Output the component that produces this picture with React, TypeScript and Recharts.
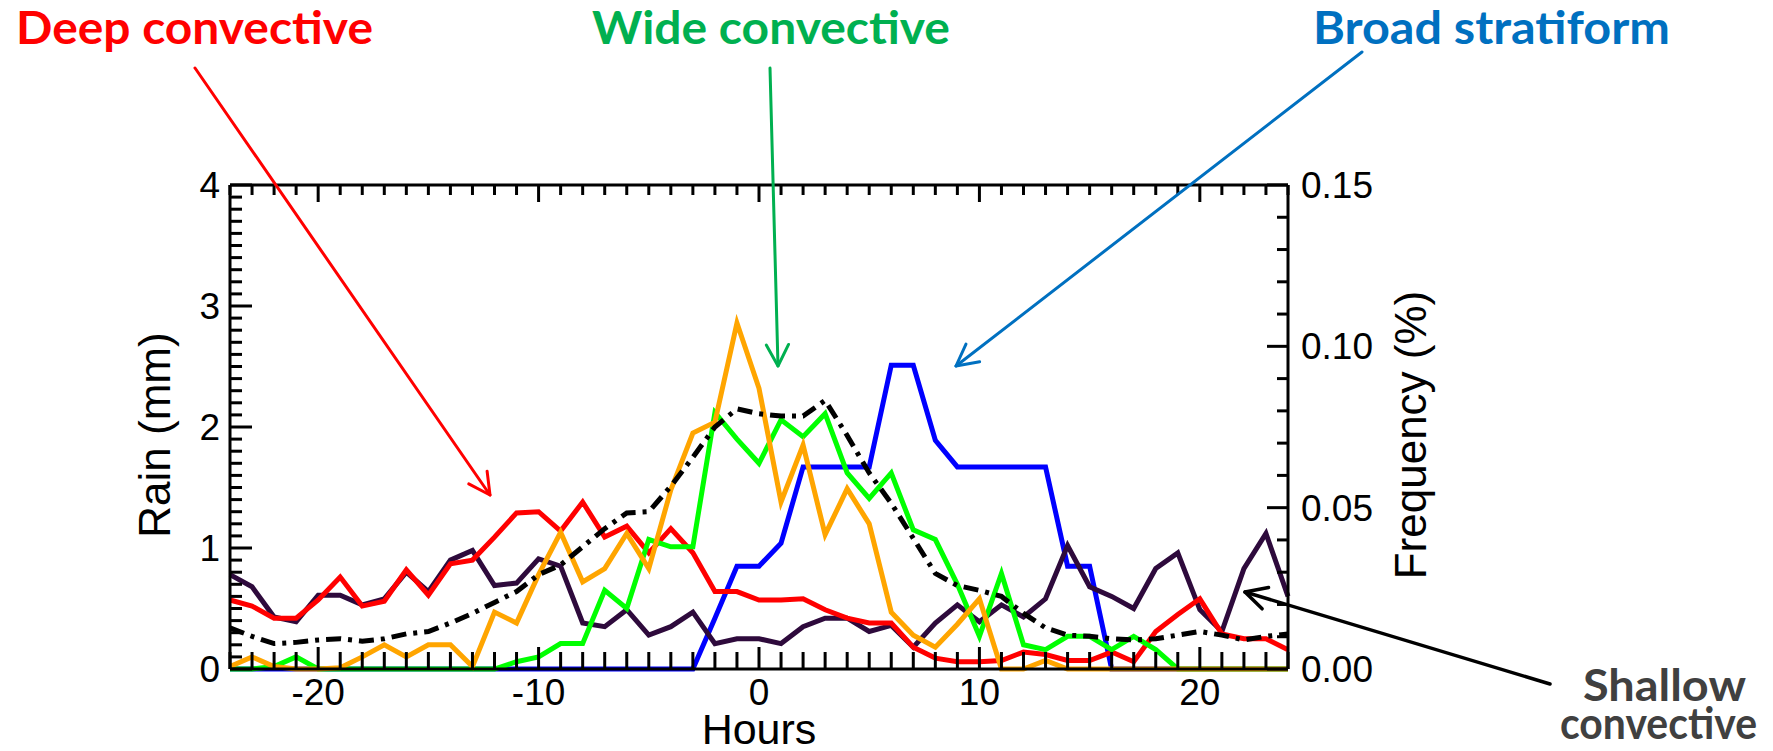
import React from 'react';
import { LineChart, Line, XAxis, YAxis } from 'recharts';

// hourly composite, -24 .. 24 h
const HOURS = [
  -24, -23, -22, -21, -20, -19, -18, -17, -16, -15, -14, -13, -12, -11, -10, -9,
  -8, -7, -6, -5, -4, -3, -2, -1, 0, 1, 2, 3, 4, 5, 6, 7,
  8, 9, 10, 11, 12, 13, 14, 15, 16, 17, 18, 19, 20, 21, 22, 23, 24,
];

const DEEP = [
  0.57, 0.52, 0.42, 0.42, 0.57, 0.76, 0.52, 0.56, 0.82, 0.61, 0.87, 0.9, 1.09, 1.29, 1.3, 1.14,
  1.38, 1.09, 1.18, 0.96, 1.16, 0.96, 0.64, 0.64, 0.57, 0.57, 0.58, 0.49, 0.42, 0.38, 0.38, 0.18,
  0.09, 0.06, 0.06, 0.07, 0.14, 0.12, 0.07, 0.07, 0.14, 0.06, 0.31, 0.45, 0.58, 0.29, 0.25, 0.25, 0.16,
];

const SHALLOW = [
  0.78, 0.68, 0.43, 0.39, 0.61, 0.61, 0.53, 0.58, 0.8, 0.64, 0.9, 0.98, 0.69, 0.71, 0.91, 0.85,
  0.38, 0.35, 0.49, 0.28, 0.35, 0.47, 0.21, 0.25, 0.25, 0.21, 0.35, 0.42, 0.42, 0.31, 0.36, 0.18,
  0.38, 0.53, 0.39, 0.53, 0.43, 0.58, 1.02, 0.68, 0.6, 0.5, 0.83, 0.96, 0.49, 0.31, 0.83, 1.12, 0.6,
];

const ORANGE = [
  0.02, 0.1, 0.02, 0, 0, 0.01, 0.1, 0.2, 0.1, 0.2, 0.2, 0.02, 0.47, 0.38, 0.78, 1.13,
  0.72, 0.83, 1.12, 0.83, 1.48, 1.95, 2.04, 2.86, 2.32, 1.38, 1.85, 1.11, 1.49, 1.2, 0.47, 0.28,
  0.18, 0.37, 0.58, 0, 0, 0.07, 0, 0, 0, 0, 0, 0, 0, 0, 0, 0, 0,
];

const WIDE = [
  0, 0, 0.02, 0.1, 0, 0, 0, 0, 0, 0, 0, 0, 0, 0.06, 0.1, 0.21,
  0.21, 0.65, 0.5, 1.07, 1.01, 1.01, 2.12, 1.9, 1.7, 2.06, 1.92, 2.11, 1.62, 1.41, 1.62, 1.15,
  1.07, 0.7, 0.27, 0.79, 0.2, 0.16, 0.27, 0.27, 0.16, 0.27, 0.16, 0, 0, 0, 0, 0, 0,
];

const BROAD = [
  0, 0, 0, 0, 0, 0, 0, 0, 0, 0, 0, 0, 0, 0, 0, 0,
  0, 0, 0, 0, 0, 0, 0.42, 0.85, 0.85, 1.04, 1.67, 1.67, 1.67, 1.67, 2.51, 2.51,
  1.89, 1.67, 1.67, 1.67, 1.67, 1.67, 0.85, 0.85, 0, 0, 0, 0, 0, 0, 0, 0, 0,
];

const TOTAL = [
  0.34, 0.27, 0.21, 0.22, 0.24, 0.25, 0.23, 0.25, 0.29, 0.31, 0.38, 0.46, 0.55, 0.64, 0.78, 0.86,
  1.01, 1.16, 1.29, 1.3, 1.51, 1.75, 2.0, 2.15, 2.11, 2.09, 2.09, 2.22, 1.93, 1.62, 1.37, 1.08,
  0.79, 0.69, 0.65, 0.6, 0.46, 0.34, 0.28, 0.27, 0.25, 0.24, 0.25, 0.28, 0.31, 0.28, 0.24, 0.27, 0.29,
];

const X_LABELS = [-20, -10, 0, 10, 20];
const RAIN_LABELS = [0, 1, 2, 3, 4];
const FREQ_LABELS = ['0.00', '0.05', '0.10', '0.15'];

const data = HOURS.map((h, i) => ({
  hour: h,
  deep: DEEP[i],
  shallow: SHALLOW[i],
  orange: ORANGE[i],
  wide: WIDE[i],
  broad: BROAD[i],
  total: TOTAL[i],
}));

const xTicks = HOURS;
const rainTicks = Array.from({ length: 41 }, (_, i) => i / 10);
const freqTicks = Array.from({ length: 16 }, (_, i) => i / 100);

const W = 1773;
const H = 751;
const TICK_FONT = '"Liberation Sans", Arial, Helvetica, sans-serif';
const NOTE_FONT = 'Lato, "Open Sans", sans-serif';
const AX = { stroke: '#000', strokeWidth: 3 };
const LW = 5;

const near = (v: number, list: number[]) => list.some((l) => Math.abs(l - v) < 1e-6);

const BottomTick = (p: any) => {
  const v = p.payload.value;
  const major = near(v, X_LABELS);
  return (
    <g>
      <line x1={p.x} x2={p.x} y1={p.y} y2={p.y - (major ? 22 : 17)} stroke="#000" strokeWidth={3} />
      {major && (
        <text x={p.x} y={p.y + 36} textAnchor="middle" fontSize={37} fontFamily={TICK_FONT} fill="#000">
          {v}
        </text>
      )}
    </g>
  );
};

const TopTick = (p: any) => {
  const major = near(p.payload.value, X_LABELS);
  return <line x1={p.x} x2={p.x} y1={p.y} y2={p.y + (major ? 17 : 10)} stroke="#000" strokeWidth={3} />;
};

const LeftTick = (p: any) => {
  const v = p.payload.value;
  const major = near(v, RAIN_LABELS);
  return (
    <g>
      <line x1={p.x} x2={p.x + (major ? 22 : 12)} y1={p.y} y2={p.y} stroke="#000" strokeWidth={3} />
      {major && (
        <text x={p.x - 10} y={p.y + 13} textAnchor="end" fontSize={37} fontFamily={TICK_FONT} fill="#000">
          {Math.round(v)}
        </text>
      )}
    </g>
  );
};

const RightTick = (p: any) => {
  const v = p.payload.value;
  const label = FREQ_LABELS.find((l) => Math.abs(parseFloat(l) - v) < 1e-6);
  return (
    <g>
      <line x1={p.x} x2={p.x - (label ? 21 : 11)} y1={p.y} y2={p.y} stroke="#000" strokeWidth={3} />
      {label && (
        <text x={p.x + 13} y={p.y + 13} textAnchor="start" fontSize={37} fontFamily={TICK_FONT} fill="#000">
          {label}
        </text>
      )}
    </g>
  );
};

const Arrow = ({ x1, y1, x2, y2, color, w = 3, head = 24 }: any) => {
  const a = Math.atan2(y2 - y1, x2 - x1);
  const s = Math.PI / 6.5;
  const p1 = `${x2 - head * Math.cos(a - s)},${y2 - head * Math.sin(a - s)}`;
  const p2 = `${x2 - head * Math.cos(a + s)},${y2 - head * Math.sin(a + s)}`;
  return (
    <g stroke={color} strokeWidth={w} fill="none" strokeLinecap="round" strokeLinejoin="round">
      <line x1={x1} y1={y1} x2={x2} y2={y2} />
      <polyline points={`${p1} ${x2},${y2} ${p2}`} />
    </g>
  );
};

export default function App() {
  return (
    <div style={{ position: 'absolute', left: 0, top: 0, width: W, height: H, background: '#fff' }}>
      <LineChart width={W} height={H} data={data} margin={{ top: 165, right: 385, bottom: 32, left: 160 }}>
        <XAxis
          xAxisId="b"
          dataKey="hour"
          type="number"
          domain={[-24, 24]}
          ticks={xTicks}
          interval={0}
          height={50}
          tickLine={false}
          tickSize={0}
          tickMargin={0}
          axisLine={AX}
          tick={<BottomTick />}
        />
        <XAxis
          xAxisId="t"
          orientation="top"
          dataKey="hour"
          type="number"
          domain={[-24, 24]}
          ticks={xTicks}
          interval={0}
          height={20}
          tickLine={false}
          tickSize={0}
          tickMargin={0}
          axisLine={AX}
          tick={<TopTick />}
        />
        <YAxis
          yAxisId="l"
          type="number"
          domain={[0, 4]}
          ticks={rainTicks}
          interval={0}
          width={70}
          tickLine={false}
          tickSize={0}
          tickMargin={0}
          axisLine={AX}
          tick={<LeftTick />}
        />
        <YAxis
          yAxisId="r"
          orientation="right"
          type="number"
          domain={[0, 0.15]}
          allowDataOverflow
          ticks={freqTicks}
          interval={0}
          width={100}
          tickLine={false}
          tickSize={0}
          tickMargin={0}
          axisLine={AX}
          tick={<RightTick />}
        />
        {/* invisible series so the frequency axis gets drawn */}
        <Line xAxisId="t" yAxisId="r" dataKey="broad" stroke="none" dot={false} activeDot={false} isAnimationActive={false} />
        <Line xAxisId="b" yAxisId="l" dataKey="broad" stroke="#0000ff" strokeWidth={LW} dot={false} isAnimationActive={false} />
        <Line xAxisId="b" yAxisId="l" dataKey="shallow" stroke="#2e0a3c" strokeWidth={LW} dot={false} isAnimationActive={false} />
        <Line xAxisId="b" yAxisId="l" dataKey="deep" stroke="#ff0000" strokeWidth={LW} dot={false} isAnimationActive={false} />
        <Line xAxisId="b" yAxisId="l" dataKey="wide" stroke="#00ff00" strokeWidth={LW} dot={false} isAnimationActive={false} />
        <Line xAxisId="b" yAxisId="l" dataKey="orange" stroke="#ffa500" strokeWidth={LW} dot={false} isAnimationActive={false} />
        <Line
          xAxisId="b"
          yAxisId="l"
          dataKey="total"
          stroke="#000"
          strokeWidth={5}
          strokeDasharray="15 7 4 7"
          dot={false}
          isAnimationActive={false}
        />
      </LineChart>

      <svg width={W} height={H} style={{ position: 'absolute', left: 0, top: 0, pointerEvents: 'none' }}>
        <g fontFamily={NOTE_FONT} fontWeight={700} fontSize={45}>
          <text x={16} y={44} fill="#ff0000" textLength={357} lengthAdjust="spacingAndGlyphs">Deep convective</text>
          <text x={592} y={44} fill="#00b050" textLength={358} lengthAdjust="spacingAndGlyphs">Wide convective</text>
          <text x={1313} y={44} fill="#0070c0" textLength={357} lengthAdjust="spacingAndGlyphs">Broad stratiform</text>
          <text x={1583} y={701} fill="#404040" fontSize={44} textLength={163} lengthAdjust="spacingAndGlyphs">Shallow</text>
          <text x={1560} y={739} fill="#404040" fontSize={44} textLength={197} lengthAdjust="spacingAndGlyphs">convective</text>
        </g>
        <Arrow x1={195} y1={68} x2={490} y2={495} color="#ff0000" />
        <Arrow x1={770} y1={68} x2={778} y2={366} color="#00b050" />
        <Arrow x1={1362} y1={52} x2={956} y2={366} color="#0070c0" />
        <Arrow x1={1550} y1={684} x2={1245} y2={592} color="#000" w={3.5} />
        <g fontFamily={TICK_FONT} fontSize={44} fill="#000" textAnchor="middle">
          <text x={759} y={744} fontSize={43}>Hours</text>
          <text transform="translate(170,435) rotate(-90)">Rain (mm)</text>
          <text transform="translate(1426,435) rotate(-90)">Frequency (%)</text>
        </g>
      </svg>
    </div>
  );
}
